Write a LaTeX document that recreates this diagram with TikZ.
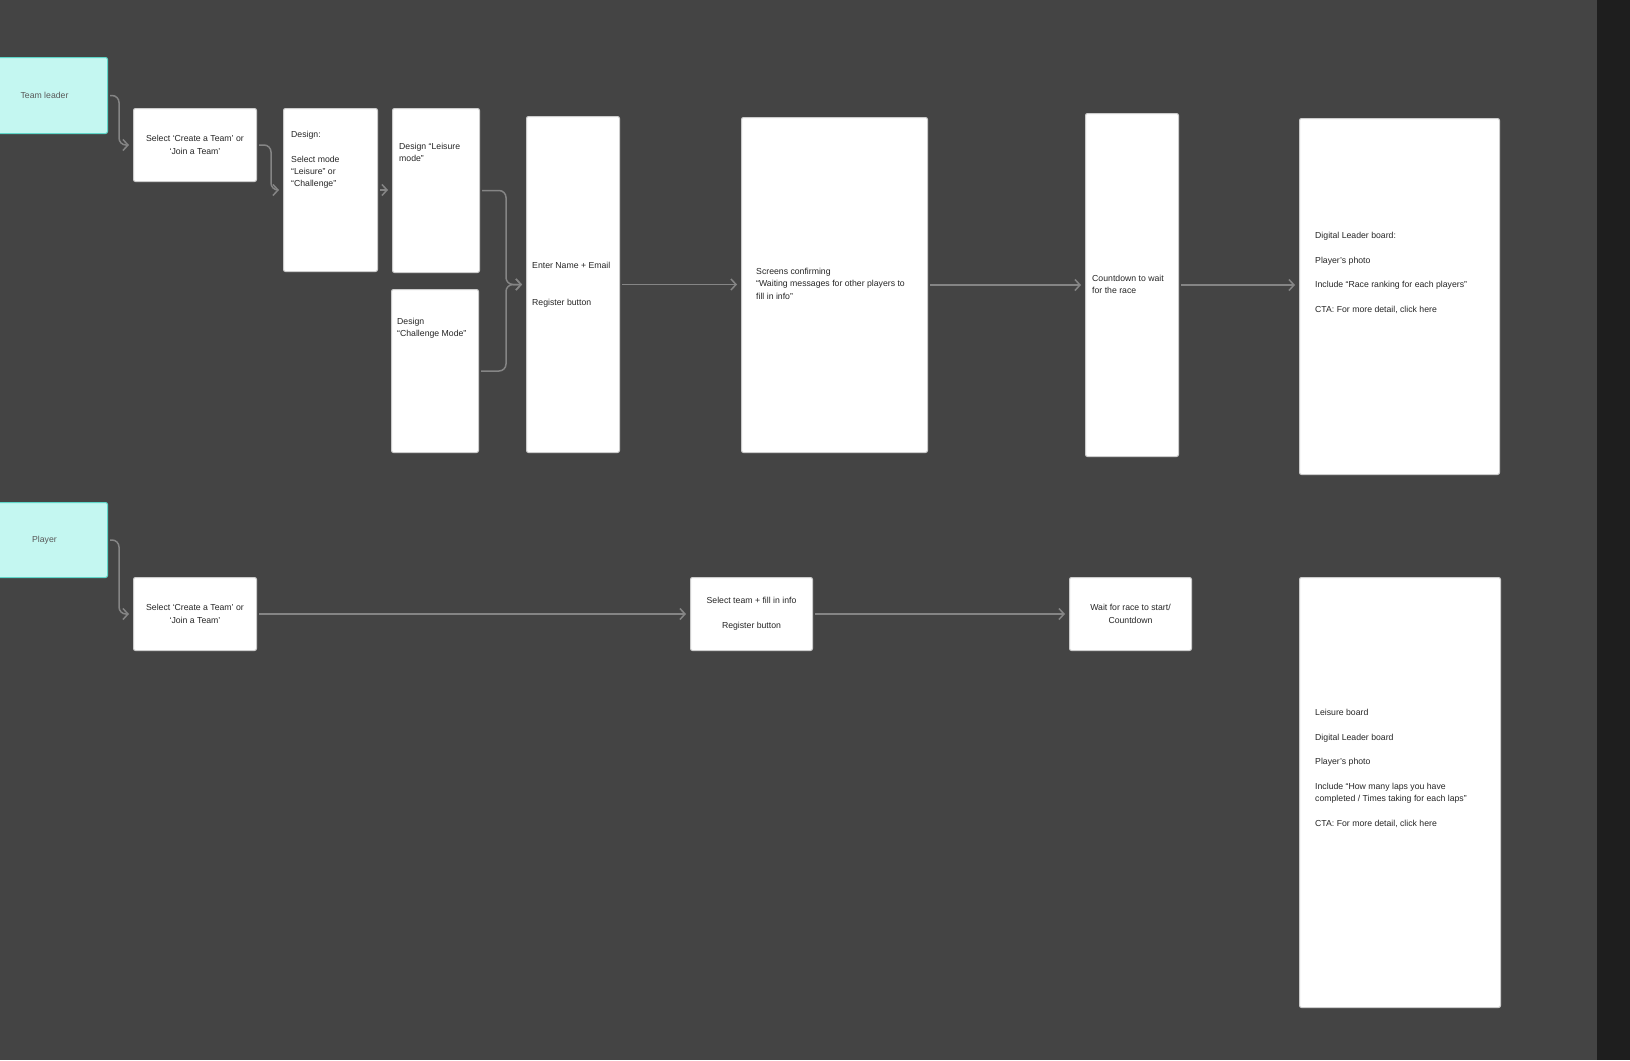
\documentclass[tikz,border=0pt]{standalone}
\usepackage{fontspec}
\setmainfont{Liberation Sans}
\usetikzlibrary{arrows.meta}
\definecolor{canvas}{HTML}{444444}
\definecolor{sidebar}{HTML}{1E1E1E}
\definecolor{rolefill}{HTML}{C4F7F1}
\definecolor{roleline}{HTML}{5ED6C8}
\definecolor{linkgrey}{HTML}{858585}
\begin{document}
\begin{tikzpicture}[x=1pt,y=-1pt,
    screen/.style={draw=white!80!black, fill=white, line width=1pt, rounded corners=2pt,
        anchor=north west, inner sep=0pt, align=center, text=black!85,
        font=\fontsize{8.7}{12.3}\selectfont},
    role/.style={screen, draw=roleline, fill=rolefill, text=black!65},
    note/.style={anchor=north west, align=left, inner sep=0pt, text=black!85,
        font=\fontsize{8.7}{12.3}\selectfont},
    link/.style={draw=linkgrey, line width=1.5pt, rounded corners=7pt,
        -{Straight Barb[length=5pt,width=11pt]}, shorten <=2pt, shorten >=4pt}]
    \useasboundingbox (0,0) rectangle (1630,1060);
    \fill[canvas] (0,0) rectangle (1630,1060);
    \fill[sidebar] (1597,0) rectangle (1630,1060);

    % Team leader flow
    \node[role, minimum width=126, minimum height=76] (lead) at (-19,57) {Team leader};
    \node[screen, minimum width=123, minimum height=73] (pick) at (133,108) {Select ‘Create a Team’ or\\‘Join a Team’};
    \node[screen, minimum width=94, minimum height=163] (mode) at (283,108) {};
    \node[screen, minimum width=87, minimum height=164] (leis) at (392,108) {};
    \node[screen, minimum width=87, minimum height=163] (chal) at (391,289) {};
    \node[screen, minimum width=93, minimum height=336] (enter) at (526,116) {};
    \node[screen, minimum width=186, minimum height=335] (screens) at (741,117) {};
    \node[screen, minimum width=93, minimum height=343] (count) at (1085,113) {};
    \node[screen, minimum width=200, minimum height=356] (board) at (1299,118) {};

    \node[note] (mode-txt) at (291,131) {Design:\\[12.3pt]Select mode\\“Leisure” or\\“Challenge”};
    \node[note] (leis-txt) at (399,143) {Design “Leisure\\mode”};
    \node[note] (chal-txt) at (397,318) {Design\\“Challenge Mode”};
    \node[note] (enter-txt) at (532,262) {Enter Name + Email\\[24.6pt]Register button};
    \node[note] (screens-txt) at (756,268) {Screens confirming\\“Waiting messages for other players to\\fill in info”};
    \node[note] (count-txt) at (1092,275) {Countdown to wait\\for the race};
    \node[note] (board-txt) at (1315,232) {Digital Leader board:\\[12.3pt]Player’s photo\\[12.3pt]Include “Race ranking for each players”\\[12.3pt]CTA: For more detail, click here};

    % Player flow
    \node[role, minimum width=126, minimum height=75] (player) at (-19,502) {Player};
    \node[screen, minimum width=123, minimum height=73] (join) at (133,577) {Select ‘Create a Team’ or\\‘Join a Team’};
    \node[screen, minimum width=122, minimum height=73] (team) at (690,577) {Select team + fill in info\\[12.3pt]Register button};
    \node[screen, minimum width=122, minimum height=73] (wait) at (1069,577) {Wait for race to start/\\Countdown};
    \node[screen, minimum width=201, minimum height=430] (lboard) at (1299,577) {};
    \node[note] (lboard-txt) at (1315,709) {Leisure board\\[12.3pt]Digital Leader board\\[12.3pt]Player’s photo\\[12.3pt]Include “How many laps you have\\completed / Times taking for each laps”\\[12.3pt]CTA: For more detail, click here};

    % Connectors
    \draw[link] (lead.east) -- ++(11,0) |- (pick.west);
    \draw[link] (pick.east) -- ++(14,0) |- (mode.west);
    \draw[link] (mode.east) -- (mode.east -| leis.west);
    \draw[link] (leis.east) -- ++(26,0) |- (enter.west);
    \draw[link] (chal.east) -- ++(27,0) |- (enter.west);
    \draw[link] (enter.east) -- (enter.east -| screens.west);
    \draw[link] (screens.east) -- (screens.east -| count.west);
    \draw[link] (count.east) -- (count.east -| board.west);
    \draw[link] (player.east) -- ++(11,0) |- (join.west);
    \draw[link] (join.east) -- (team.west);
    \draw[link] (team.east) -- (wait.west);
\end{tikzpicture}
\end{document}
